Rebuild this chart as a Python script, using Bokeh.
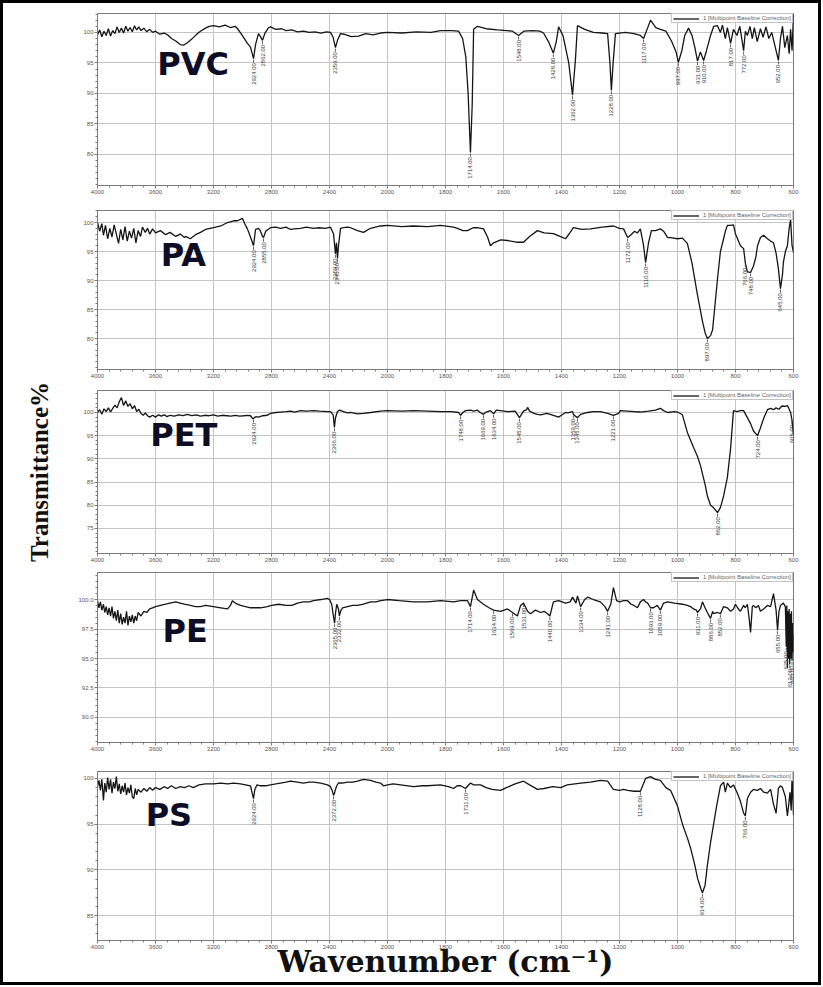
import numpy as np
from bokeh.plotting import figure
from bokeh.layouts import column
from bokeh.models import Range1d, FixedTicker, Label, Legend, LegendItem
from bokeh.core.properties import value
from bokeh.embed import file_html
from bokeh.resources import INLINE

# ---------------- data ----------------
x_tick_wn = [4000, 3600, 3200, 2800, 2400, 2000, 1800, 1600, 1400, 1200, 1000, 800, 600]
x_tick_labels = ["4000", "3600", "3200", "2800", "2400", "2000", "1800", "1600",
                 "1400", "1200", "1000", "800", "600"]

pvc_wn = [4000, 3985, 3970, 3955, 3940, 3925, 3910, 3895, 3880, 3865, 3850, 3835, 3820, 3805, 3790,
          3775, 3760, 3745, 3730, 3715, 3700, 3680, 3660, 3640, 3620, 3600, 3570, 3540, 3517, 3490,
          3460, 3430, 3407, 3380, 3350, 3320, 3290, 3255, 3230, 3200, 3160, 3120, 3083, 3050, 3034,
          3010, 2985, 2966, 2945, 2924, 2910, 2890, 2876, 2862, 2845, 2820, 2807, 2770, 2730, 2700,
          2660, 2620, 2580, 2540, 2500, 2460, 2420, 2393, 2375, 2359, 2345, 2324, 2300, 2250, 2200,
          2150, 2100, 2048, 2000, 1950, 1900, 1850, 1817, 1780, 1755, 1741, 1730, 1722, 1714, 1708,
          1703, 1690, 1660, 1620, 1590, 1569, 1548, 1530, 1500, 1475, 1462, 1445, 1428, 1418, 1410,
          1395, 1375, 1362, 1352, 1345, 1320, 1290, 1260, 1241, 1233, 1228, 1222, 1214, 1180, 1150,
          1128, 1117, 1105, 1093, 1075, 1059, 1040, 1020, 1005, 997, 985, 975, 962, 950, 940,
          931, 921, 910, 900, 886, 875, 862, 852, 845, 835, 828, 817, 807, 795, 785,
          772, 766, 759, 750, 742, 735, 725, 714, 705, 695, 685, 675, 665, 652, 645,
          638, 630, 621, 615, 610, 605, 600]
pvc_t = [99.6, 100.4, 99.3, 100.2, 99.5, 100.6, 99.4, 100.3, 99.8, 100.9, 100.0, 100.7, 99.9, 101.0, 100.2,
         100.8, 100.1, 101.1, 100.4, 100.9, 100.3, 100.7, 100.1, 100.5, 100.0, 100.2, 99.7, 99.9, 99.6, 99.0,
         98.6, 98.0, 97.9, 98.3, 98.9, 99.6, 100.2, 100.7, 101.0, 101.1, 100.9, 101.2, 100.8, 101.0, 100.6,
         99.8, 98.9, 98.2, 97.6, 95.7, 98.0, 99.8, 99.3, 98.7, 99.9, 100.8, 100.9, 100.5, 100.6, 100.3,
         100.4, 100.1, 100.2, 100.0, 100.1, 99.9, 100.1, 100.0, 99.2, 97.5, 98.7, 99.8, 99.7, 99.3, 99.4,
         99.8, 99.6, 99.9, 100.0, 99.9, 100.1, 100.0, 100.3, 100.3, 100.2, 99.0, 96.0, 90.0, 80.3, 88.0,
         100.5, 101.0, 100.6, 100.4, 100.3, 100.2, 99.5, 100.2, 100.3, 100.2, 99.9, 98.5, 96.6, 98.5, 100.9,
         99.5, 95.0, 89.7, 95.5, 101.1, 100.5, 100.0, 99.9, 99.8, 95.0, 90.5, 95.0, 99.8, 100.0, 99.8,
         99.5, 99.0, 100.5, 102.0, 100.8, 100.5, 100.2, 98.5, 96.8, 95.1, 97.0, 99.5, 100.7, 99.5, 97.5,
         95.3, 96.8, 95.4, 97.0, 99.5, 101.0, 101.1, 100.0, 101.2, 99.0, 100.8, 98.2, 100.5, 99.5, 101.0,
         97.0, 100.2, 99.5, 101.0, 99.0, 100.8, 98.5, 100.6, 99.2, 100.9, 99.0, 100.0, 98.0, 95.4, 99.0,
         101.0, 97.5, 99.5, 96.5, 100.5, 97.0, 103.0]
pvc_peaks = [2924, 2862, 2359, 1714, 1548, 1428, 1362, 1228, 1117, 997, 931, 910, 817, 772, 652]

pa_wn = [4000, 3985, 3970, 3959, 3945, 3930, 3915, 3900, 3885, 3870, 3855, 3840, 3825, 3810, 3795,
         3780, 3765, 3750, 3735, 3720, 3703, 3690, 3670, 3655, 3640, 3620, 3600, 3566, 3530, 3500,
         3460, 3430, 3400, 3393, 3360, 3324, 3290, 3255, 3200, 3150, 3103, 3060, 3034, 3000, 2979,
         2966, 2945, 2924, 2910, 2890, 2876, 2862, 2855, 2840, 2807, 2770, 2738, 2700, 2669, 2640,
         2600, 2560, 2510, 2470, 2430, 2393, 2372, 2359, 2352, 2345, 2338, 2324, 2303, 2276, 2255,
         2207, 2166, 2117, 2048, 2000, 1950, 1910, 1862, 1817, 1772, 1759, 1740, 1724, 1705, 1690,
         1669, 1655, 1645, 1634, 1610, 1586, 1555, 1531, 1510, 1483, 1460, 1428, 1405, 1386, 1370,
         1359, 1330, 1300, 1260, 1221, 1200, 1186, 1172, 1162, 1148, 1138, 1128, 1117, 1110, 1100,
         1090, 1076, 1059, 1048, 1034, 1024, 1000, 983, 966, 950, 931, 914, 905, 897, 886,
         879, 862, 852, 841, 835, 828, 817, 807, 800, 793, 783, 772, 766, 759, 748,
         738, 730, 724, 714, 703, 690, 679, 669, 660, 652, 645, 638, 635, 628, 621,
         615, 610, 605, 600]
pa_t = [100.0, 98.5, 99.8, 97.8, 99.5, 97.2, 99.0, 97.5, 99.6, 98.0, 96.4, 98.8, 97.0, 99.3, 96.8,
        98.5, 97.3, 99.0, 96.5, 98.6, 97.6, 99.2, 98.3, 99.0, 98.0, 98.9, 98.2, 98.6, 97.9, 98.3,
        97.6, 98.0, 97.4, 97.6, 97.2, 97.9, 98.3, 98.8, 99.1, 99.4, 100.0, 100.3, 100.3, 100.7, 99.5,
        98.9, 97.5, 96.0, 98.8, 99.0, 98.5, 97.6, 97.4, 98.5, 99.1, 99.2, 99.0, 99.2, 98.8, 98.9,
        99.0, 99.2, 99.0, 99.1, 99.0, 99.2, 98.0, 94.6, 96.5, 93.8, 96.0, 99.0, 99.1, 99.2, 99.1,
        98.6, 98.3, 99.0, 99.4, 99.5, 99.3, 99.4, 99.3, 99.5, 99.2, 99.0, 98.6, 98.6, 99.1, 99.1,
        98.9, 97.5, 96.0, 96.5, 97.0, 96.9, 96.6, 96.6, 97.6, 98.6, 98.2, 98.1, 97.6, 97.2, 98.3,
        99.1, 98.8, 98.9, 99.2, 99.4, 99.0, 98.9, 97.4, 97.8, 98.5, 98.2, 98.9, 96.0, 93.1, 96.5,
        98.6, 98.6, 98.9, 98.5, 97.4, 97.4, 97.2, 97.3, 96.4, 93.0, 87.5, 83.0, 81.0, 80.0, 80.5,
        81.5, 90.3, 95.0, 97.2, 98.5, 99.5, 99.5, 99.6, 98.0, 97.2, 96.0, 95.5, 93.0, 91.5, 91.4,
        92.5, 94.0, 96.0, 97.4, 97.8, 97.2, 96.8, 96.5, 94.7, 92.0, 88.6, 91.0, 93.1, 95.0, 96.0,
        99.0, 100.5, 96.0, 94.8]
pa_peaks = [2924, 2855, 2359, 2345, 1172, 1110, 897, 766, 748, 645]

pet_wn = [4000, 3985, 3970, 3955, 3940, 3925, 3910, 3895, 3880, 3865, 3850, 3835, 3820, 3805, 3790,
          3775, 3760, 3745, 3730, 3715, 3700, 3685, 3670, 3655, 3640, 3620, 3600, 3580, 3560, 3540,
          3520, 3500, 3470, 3440, 3410, 3380, 3350, 3320, 3290, 3260, 3230, 3200, 3170, 3140, 3110,
          3080, 3050, 3020, 2990, 2966, 2945, 2930, 2924, 2910, 2890, 2860, 2828, 2807, 2770, 2738,
          2700, 2669, 2640, 2600, 2560, 2510, 2470, 2414, 2393, 2375, 2366, 2359, 2345, 2330, 2303,
          2276, 2255, 2207, 2166, 2117, 2048, 2000, 1950, 1910, 1862, 1817, 1780, 1755, 1748, 1740,
          1731, 1714, 1703, 1690, 1680, 1669, 1660, 1645, 1634, 1625, 1610, 1586, 1560, 1545, 1531,
          1520, 1517, 1510, 1495, 1483, 1472, 1450, 1428, 1410, 1403, 1386, 1379, 1362, 1359, 1350,
          1345, 1334, 1310, 1290, 1266, 1241, 1221, 1203, 1197, 1172, 1150, 1128, 1100, 1076, 1059,
          1048, 1034, 1010, 1000, 983, 966, 945, 931, 921, 905, 897, 886, 876, 862, 852,
          841, 828, 817, 807, 795, 783, 772, 760, 748, 738, 724, 715, 703, 690, 679,
          669, 660, 650, 640, 628, 621, 617, 610, 605, 600]
pet_t = [100.0, 100.6, 99.6, 100.8, 100.2, 101.0, 100.1, 100.9, 101.6, 101.0, 102.3, 103.2, 101.5, 102.5, 101.3,
         101.9, 100.8, 101.5, 100.2, 100.7, 99.8, 99.4, 99.9, 99.3, 99.0, 99.4, 99.0, 99.5, 99.2, 99.5,
         99.1, 99.4, 99.2, 99.5, 99.3, 99.6, 99.3, 99.5, 99.2, 99.4, 99.3, 99.5, 99.2, 99.4, 99.3,
         99.2, 99.4, 99.2, 99.3, 99.4, 99.3, 98.7, 98.7, 99.1, 99.0, 99.3, 99.4, 99.8, 100.0, 100.1,
         100.2, 100.3, 100.1, 100.4, 100.3, 100.4, 100.3, 100.2, 100.2, 99.5, 96.8, 98.8, 100.2, 100.5, 100.2,
         99.9, 100.0, 99.7, 99.8, 100.0, 100.3, 100.4, 100.3, 100.4, 100.3, 100.2, 100.2, 100.0, 99.4, 100.0,
         100.4, 100.5, 100.3, 100.5, 100.0, 99.6, 100.1, 100.4, 99.7, 100.5, 100.4, 100.2, 100.3, 98.9, 100.3,
         100.6, 101.1, 100.3, 99.8, 99.6, 99.5, 99.8, 99.4, 99.0, 99.3, 100.0, 99.9, 100.2, 99.6, 99.1,
         98.9, 99.6, 100.0, 100.2, 100.2, 99.8, 99.4, 99.8, 100.4, 100.3, 100.2, 100.1, 100.3, 100.5, 100.9,
         100.4, 100.0, 100.2, 100.1, 99.5, 95.7, 92.5, 90.5, 88.6, 84.5, 82.0, 80.0, 79.5, 78.4, 79.5,
         82.0, 86.0, 92.2, 100.4, 100.2, 100.4, 100.4, 99.0, 97.6, 96.0, 95.0, 96.5, 98.7, 100.6, 100.9,
         100.6, 101.0, 100.7, 101.4, 101.3, 101.5, 101.0, 100.0, 98.3, 95.0]
pet_peaks = [2924, 2366, 1748, 1669, 1634, 1545, 1359, 1345, 1221, 862, 724, 605]

pe_wn = [4000, 3990, 3980, 3970, 3959, 3950, 3940, 3930, 3920, 3910, 3900, 3890, 3880, 3870, 3860,
         3850, 3840, 3830, 3820, 3810, 3800, 3790, 3780, 3770, 3760, 3750, 3740, 3730, 3720, 3700,
         3680, 3660, 3640, 3620, 3600, 3566, 3530, 3500, 3460, 3430, 3400, 3359, 3324, 3290, 3255,
         3200, 3150, 3103, 3083, 3070, 3050, 3014, 2979, 2945, 2910, 2876, 2828, 2800, 2750, 2700,
         2660, 2621, 2580, 2540, 2510, 2460, 2414, 2400, 2385, 2372, 2365, 2359, 2350, 2338, 2332,
         2324, 2310, 2276, 2240, 2207, 2166, 2117, 2080, 2048, 2000, 1960, 1910, 1862, 1817, 1772,
         1748, 1724, 1714, 1703, 1690, 1669, 1650, 1634, 1610, 1586, 1569, 1552, 1541, 1531, 1517,
         1507, 1490, 1472, 1460, 1448, 1440, 1428, 1410, 1386, 1370, 1362, 1350, 1345, 1334, 1320,
         1310, 1290, 1266, 1250, 1241, 1230, 1221, 1210, 1200, 1186, 1172, 1160, 1150, 1138, 1128,
         1117, 1110, 1103, 1093, 1083, 1070, 1059, 1048, 1034, 1010, 983, 966, 955, 945, 935,
         931, 921, 914, 905, 897, 886, 879, 876, 862, 852, 841, 828, 817, 807, 800,
         793, 783, 772, 766, 759, 753, 748, 742, 738, 730, 721, 714, 703, 690, 679,
         669, 660, 655, 650, 645, 635, 628, 625, 623, 621, 619, 617, 615, 613, 611,
         609, 607, 605, 603, 601, 600]
pe_t = [99.9, 99.3, 99.8, 99.1, 99.6, 98.9, 99.4, 98.7, 99.3, 98.6, 99.4, 98.4, 99.0, 98.2, 99.1,
        98.0, 98.8, 97.9, 98.5, 98.0, 99.0, 97.8, 98.6, 98.1, 98.7, 98.0, 98.6, 98.2, 98.9, 98.6,
        99.0, 98.9, 99.2, 99.3, 99.4, 99.5, 99.6, 99.7, 99.8, 99.7, 99.6, 99.5, 99.4, 99.4, 99.5,
        99.4, 99.3, 99.2, 99.5, 99.9, 99.7, 99.5, 99.4, 99.3, 99.3, 99.3, 99.4, 99.5, 99.6, 99.5,
        99.5, 99.7, 99.8, 99.8, 99.9, 100.0, 100.1, 100.0, 99.6, 98.5, 98.0, 98.8, 99.6, 99.2, 98.6,
        99.0, 99.3, 99.4, 99.5, 99.5, 99.6, 99.8, 99.8, 99.9, 100.0, 99.9, 99.8, 99.8, 99.9, 99.8,
        99.9, 99.9, 99.4, 100.8, 100.0, 99.6, 99.3, 99.1, 99.0, 99.2, 98.9, 98.6, 99.5, 99.7, 99.0,
        98.8, 99.1, 98.9, 99.0, 98.8, 98.6, 99.8, 99.9, 99.7, 99.8, 100.2, 99.7, 100.3, 99.4, 100.0,
        100.2, 100.0, 99.8, 99.4, 99.0, 99.6, 101.0, 99.9, 99.8, 99.9, 99.9, 99.6, 99.5, 99.3, 99.8,
        100.0, 99.8, 99.7, 99.3, 99.3, 99.5, 99.1, 99.7, 99.8, 99.7, 99.6, 99.5, 99.4, 99.2, 99.1,
        98.9, 99.2, 99.8, 99.3, 98.9, 98.4, 99.0, 98.8, 98.9, 98.8, 99.4, 99.3, 99.0, 99.2, 99.6,
        99.3, 99.0, 99.5, 99.3, 99.6, 98.4, 97.2, 99.4, 99.5, 99.3, 99.5, 99.0, 99.2, 99.5, 99.4,
        100.5, 99.1, 97.4, 99.0, 99.5, 99.7, 99.4, 96.0, 99.5, 94.2, 99.0, 95.0, 99.2, 94.5, 98.8,
        95.0, 99.0, 94.8, 98.0, 95.5, 97.0]
pe_peaks = [2365, 2332, 1714, 1634, 1569, 1531, 1440, 1334, 1241, 1093, 1059, 931, 886, 852, 655, 625, 613, 605]

ps_wn = [4000, 3990, 3980, 3970, 3959, 3950, 3940, 3930, 3920, 3910, 3900, 3890, 3880, 3870, 3860,
         3850, 3840, 3830, 3820, 3810, 3800, 3790, 3780, 3770, 3760, 3750, 3740, 3730, 3720, 3700,
         3680, 3660, 3640, 3620, 3600, 3570, 3540, 3517, 3490, 3460, 3430, 3400, 3370, 3340, 3300,
         3255, 3200, 3150, 3103, 3060, 3014, 2979, 2945, 2935, 2924, 2915, 2900, 2876, 2840, 2807,
         2770, 2738, 2700, 2669, 2621, 2580, 2540, 2510, 2460, 2414, 2393, 2380, 2372, 2365, 2359,
         2350, 2338, 2310, 2276, 2240, 2207, 2166, 2117, 2080, 2048, 2028, 2000, 1980, 1955, 1910,
         1880, 1862, 1817, 1790, 1772, 1760, 1748, 1731, 1714, 1703, 1679, 1660, 1640, 1610, 1590,
         1560, 1531, 1510, 1483, 1460, 1430, 1403, 1380, 1334, 1300, 1266, 1241, 1221, 1200, 1186,
         1172, 1150, 1128, 1110, 1093, 1076, 1059, 1040, 1024, 1000, 983, 966, 955, 940, 931,
         920, 914, 905, 897, 886, 876, 865, 852, 841, 835, 828, 817, 807, 795, 783,
         772, 766, 759, 748, 738, 724, 714, 703, 690, 679, 669, 660, 652, 645, 638,
         628, 621, 617, 612, 608, 605, 600]
ps_t = [99.1, 99.8, 98.7, 99.9, 97.6, 99.5, 98.5, 100.1, 98.8, 99.9, 98.4, 99.6, 98.9, 100.2, 98.6,
        99.4, 98.3, 99.2, 98.5, 99.5, 98.2, 99.0, 98.4, 99.3, 98.0, 97.8, 98.9, 98.2, 98.8, 98.5,
        98.9, 98.6, 99.0, 98.7, 99.0, 98.8, 99.1, 98.9, 99.2, 98.9, 99.1, 99.0, 99.2, 99.0, 99.3,
        99.4, 99.4, 99.5, 99.4, 99.5, 99.4, 99.3, 99.2, 98.5, 97.8, 98.8, 99.3, 99.2, 99.2, 99.3,
        99.4, 99.5, 99.6, 99.7, 99.6, 99.5, 99.6, 99.6, 99.5, 99.3, 99.1, 98.6, 98.15, 98.4, 98.8,
        99.2, 99.5, 99.5, 99.6, 99.6, 99.7, 99.9, 99.8, 99.6, 99.5, 99.2, 99.3, 99.4, 99.3, 99.1,
        99.2, 99.2, 99.3, 99.1, 98.9, 99.2, 99.2, 98.9, 99.5, 99.3, 99.3, 99.0, 98.8, 98.7, 99.0,
        99.4, 99.7, 99.3, 98.8, 98.9, 99.1, 99.0, 99.3, 99.5, 99.6, 99.8, 99.7, 98.8, 98.7, 98.8,
        98.7, 98.6, 98.6, 100.0, 100.2, 99.9, 99.8, 99.0, 98.7, 97.0, 95.0, 93.5, 92.4, 90.5, 89.1,
        88.0, 87.5, 88.3, 90.5, 93.0, 94.9, 97.0, 99.2, 99.6, 98.5, 99.5, 99.0, 99.3, 98.5, 97.5,
        96.2, 95.9, 97.8, 98.5, 98.8, 98.7, 98.9, 98.5, 98.4, 98.8, 97.2, 96.2, 98.9, 99.2, 99.0,
        98.0, 95.9, 97.0, 98.5, 96.5, 100.3, 96.0]
ps_peaks = [2924, 2372, 1731, 1128, 914, 766]


# ---------------- helpers ----------------
def to_u(wn):
    wn = np.asarray(wn, dtype=float)
    return np.where(wn >= 2000, (4000.0 - wn) / 400.0, 5.0 + (2000.0 - wn) / 200.0)


GRID = "#c4c4c4"
FRAME = "#7a7a7a"
TICKTXT = "#555555"
NAMECOL = "#0d0d26"
FIG_W = 815

x_major = [float(v) for v in to_u(x_tick_wn)]
x_minor = [i * 0.2 for i in range(0, 61)]
x_over = {x_major[i]: x_tick_labels[i] for i in range(len(x_major))}


def make_panel(wn, tr, peaks, name, name_x, name_y, ymin, ymax, yticks, ylabels, ystep,
               height, tb, bb):
    p = figure(width=FIG_W, height=height, output_backend="svg", toolbar_location=None,
               x_range=Range1d(0, 12), y_range=Range1d(ymin, ymax),
               min_border_left=94, min_border_right=25, min_border_top=tb, min_border_bottom=bb)
    p.background_fill_color = "white"
    p.border_fill_color = "white"
    p.outline_line_color = FRAME
    p.outline_line_width = 1

    wn = np.asarray(wn, dtype=float)
    tr = np.asarray(tr, dtype=float)
    u = to_u(wn)
    r = p.line(u, tr, line_color="#151515", line_width=1.3)

    # peak annotations
    order = np.argsort(wn)
    pk = np.asarray(peaks, dtype=float)
    pt = np.interp(pk, wn[order], tr[order])
    pu = to_u(pk)
    fh = height - tb - bb
    dy = (ymax - ymin) / fh
    p.segment(pu, pt - dy * 1.0, pu, pt - dy * 4.0, line_color="#333333", line_width=0.8)
    p.text(x=pu, y=pt - dy * 4.5, text=[f"{v:.2f}" for v in peaks], angle=np.pi / 2,
           text_align="right", text_baseline="middle", text_font_size="6px",
           text_color="#3a3a3a", text_font=value("Liberation Sans"))

    # x axis
    p.xaxis.ticker = FixedTicker(ticks=x_major, minor_ticks=x_minor)
    p.xgrid.ticker = FixedTicker(ticks=x_major)
    p.xaxis.major_label_overrides = x_over
    # y axis
    ymin_tick = np.ceil(ymin / ystep) * ystep
    y_minor = [float(v) for v in np.arange(ymin_tick, ymax, ystep)]
    p.yaxis.ticker = FixedTicker(ticks=yticks, minor_ticks=y_minor)
    p.ygrid.ticker = FixedTicker(ticks=yticks)
    p.yaxis.major_label_overrides = {yticks[i]: ylabels[i] for i in range(len(yticks))}

    for ax in (p.xaxis[0], p.yaxis[0]):
        ax.axis_line_color = FRAME
        ax.major_tick_line_color = FRAME
        ax.minor_tick_line_color = FRAME
        ax.major_tick_out = 3
        ax.major_tick_in = 0
        ax.minor_tick_out = 2
        ax.minor_tick_in = 0
        ax.major_label_text_font = "Liberation Sans"
        ax.major_label_text_font_size = "6px"
        ax.major_label_text_color = TICKTXT
        ax.major_label_standoff = 1
    for g in (p.xgrid[0], p.ygrid[0]):
        g.grid_line_color = GRID
        g.grid_line_width = 1

    legend = Legend(items=[LegendItem(label="1 [Multipoint Baseline Correction]", renderers=[r])],
                    location="top_right", margin=0, padding=1, spacing=0,
                    label_text_font_size="6px", label_text_color="#666666",
                    label_text_font="Liberation Sans", label_height=5, glyph_height=5,
                    glyph_width=26, label_standoff=4, border_line_color="#8a8a8a",
                    border_line_width=1, background_fill_alpha=1.0)
    p.add_layout(legend)

    p.add_layout(Label(x=name_x, y=name_y, text=name, text_font="DejaVu Sans",
                       text_font_style="bold", text_font_size="32px", text_color=NAMECOL,
                       text_baseline="middle"))
    return p


p1 = make_panel(pvc_wn, pvc_t, pvc_peaks, "PVC", 1.03, 94.75, 74.9, 103.1,
                [80, 85, 90, 95, 100], ["80", "85", "90", "95", "100"], 1.0, 197, 10, 15)
p2 = make_panel(pa_wn, pa_t, pa_peaks, "PA", 1.09, 94.48, 74.66, 102.07,
                [80, 85, 90, 95, 100], ["80", "85", "90", "95", "100"], 1.0, 180, 10, 11)
p3 = make_panel(pet_wn, pet_t, pet_peaks, "PET", 0.91, 95.04, 69.6, 104.74,
                [75, 80, 85, 90, 95, 100], ["75", "80", "85", "90", "95", "100"], 1.0, 185, 10, 12)
p4 = make_panel(pe_wn, pe_t, pe_peaks, "PE", 1.12, 97.37, 87.88, 102.29,
                [90, 92.5, 95, 97.5, 100], ["90.0", "92.5", "95.0", "97.5", "100.0"], 0.5, 190, 7, 13)
p5 = make_panel(ps_wn, ps_t, ps_peaks, "PS", 0.83, 95.98, 82.28, 100.76,
                [85, 90, 95, 100], ["85", "90", "95", "100"], 1.0, 227, 16, 42)

p3.yaxis.axis_label = "Transmittance%"
p3.yaxis.axis_label_text_font = "Liberation Serif"
p3.yaxis.axis_label_text_font_style = "bold"
p3.yaxis.axis_label_text_font_size = "25px"
p3.yaxis.axis_label_text_color = "#111111"
p3.yaxis.axis_label_standoff = 27

p5.xaxis.axis_label = "Wavenumber (cm\u207b\u00b9)"
p5.xaxis.axis_label_text_font = "DejaVu Serif"
p5.xaxis.axis_label_text_font_style = "bold"
p5.xaxis.axis_label_text_font_size = "30px"
p5.xaxis.axis_label_text_color = "#111111"
p5.xaxis.axis_label_standoff = -8

layout = column(p1, p2, p3, p4, p5, spacing=0, styles={"border": "3px solid black"})

open("out.html", "w").write(file_html(layout, INLINE))
